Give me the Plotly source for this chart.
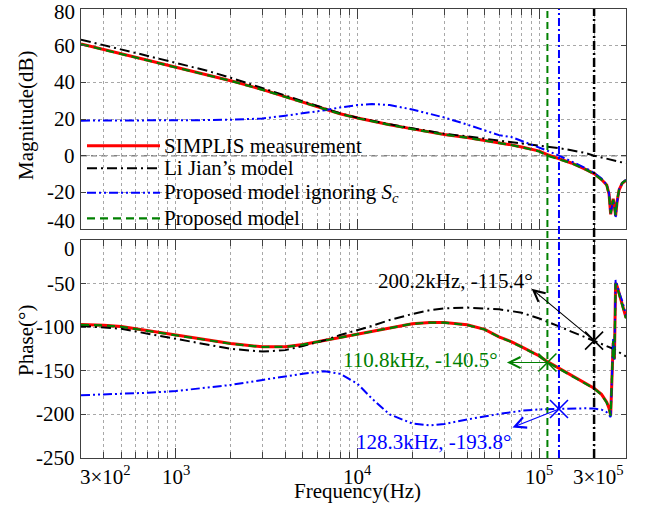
import numpy as np
import plotly.graph_objects as go

# ---------------- data ----------------
freq = [300, 400, 500, 700, 1000, 1500, 2000, 3000, 4000, 5000, 6600, 8000,
        10000, 12000, 15000, 20000, 25000, 30000, 40000, 50000, 60000, 70000,
        80000, 100000, 110800, 128300, 150000, 180000, 200200, 220000, 235000,
        242000, 247000, 251000, 255000, 259000, 263000, 268000, 275000, 286000,
        300000]

mag_simplis = [60.9, 58.0, 55.6, 52.0, 48.2, 43.9, 40.9, 36.0, 32.2, 29.3, 25.4, 22.9,
               20.5, 18.8, 16.9, 14.6, 12.8, 11.6, 9.9, 8.4, 7.1, 5.9,
               4.7, 2.5, 0.6, -1.6, -4.0, -7.5, -9.8, -13.0, -16.0,
               -21.0, -32.0, -27.0, -23.5, -27.0, -33.0, -25.0, -18.6, -15.0,
               -13.5]
mag_lijian = [63.3, 60.4, 58.0, 54.4, 50.6, 46.2, 42.5, 36.8, 32.8, 29.6, 25.6, 23.1,
              20.7, 19.0, 17.1, 14.9, 13.2, 12.0, 10.5, 9.3, 8.4, 7.6,
              6.9, 5.7, 5.1, 4.1, 3.0, 1.4, 0.0, -1.0, -1.6,
              -1.9, -2.1, -2.3, -2.4, -2.6, -2.8, -3.0, -3.3, -3.7,
              -4.2]
mag_nosc = [19.1, 19.1, 19.2, 19.2, 19.3, 19.4, 19.6, 20.3, 21.8, 23.0, 24.8, 26.3,
            27.6, 28.2, 27.6, 25.2, 22.8, 20.8, 17.0, 14.0, 11.2, 10.2,
            8.0, 4.6, 2.7, 0.0, -3.0, -6.8, -9.3, -12.5, -15.8,
            -20.5, -31.5, -27.5, -24.0, -27.5, -34.0, -25.5, -18.4, -14.8,
            -13.2]
mag_proposed = [60.8, 57.9, 55.5, 51.9, 48.1, 43.8, 40.8, 35.9, 32.1, 29.2, 25.3, 22.8,
                20.4, 18.7, 16.8, 14.5, 12.7, 11.5, 9.8, 8.3, 7.0, 5.8,
                4.6, 2.3, 0.0, -1.8, -4.1, -7.6, -9.9, -13.1, -16.2,
                -21.5, -31.5, -27.5, -24.0, -27.5, -32.5, -24.5, -18.4, -14.9,
                -13.4]

ph_simplis = [-97.0, -97.7, -99.3, -104.0, -108.5, -115.0, -118.8, -122.5, -122.4, -119.8, -115.0, -111.5,
              -107.8, -104.5, -100.5, -96.0, -94.5, -94.6, -97.3, -102.5, -111.0, -116.5,
              -122.5, -133.0, -139.5, -147.0, -155.0, -164.0, -170.0, -177.0, -186.0,
              -193.0, -201.0, -160.0, -118.0, -136.0, -49.0, -53.0, -61.0, -73.0,
              -89.0]
ph_lijian = [-98.5, -100.0, -101.8, -107.5, -113.5, -120.5, -124.8, -128.0, -126.3, -121.5, -115.0, -109.0,
             -103.5, -98.5, -91.8, -84.8, -80.5, -78.5, -77.5, -78.2, -79.5, -81.5,
             -83.5, -90.0, -93.5, -99.0, -105.0, -111.5, -115.4, -119.0, -121.5,
             -122.5, -123.3, -124.0, -124.7, -125.4, -126.2, -127.3, -128.8, -130.8,
             -133.5]
ph_nosc = [-178.0, -177.3, -176.6, -175.2, -173.2, -169.5, -166.2, -160.5, -156.3, -153.3, -150.5, -153.5,
           -165.0, -182.0, -200.0, -210.5, -212.6, -211.0, -205.8, -202.0, -199.5, -197.5,
           -195.8, -194.3, -194.0, -193.8, -193.3, -193.0, -193.3, -194.5, -197.5,
           -200.5, -203.0, -158.0, -112.0, -138.0, -46.0, -51.0, -60.0, -70.0,
           -86.0]
ph_proposed = [-97.2, -97.9, -99.5, -104.2, -108.7, -115.2, -119.0, -122.7, -122.6, -120.0, -115.2, -111.6,
               -107.9, -104.6, -100.6, -96.1, -94.6, -94.7, -97.5, -102.7, -111.2, -116.8,
               -122.8, -133.4, -140.0, -147.4, -155.4, -164.4, -170.4, -177.4, -186.5,
               -193.5, -201.5, -158.0, -116.0, -137.0, -50.0, -54.0, -62.0, -74.0,
               -90.0]

# crossover points: Proposed model, Proposed ignoring Sc, Li Jian's model
cross_freq = [110800, 128300, 200200]
cross_phase = [-140.5, -193.8, -115.4]
cross_text = ["110.8kHz, -140.5°", "128.3kHz, -193.8°", "200.2kHz, -115.4°"]

legend_names = ["SIMPLIS measurement", "Li Jian’s model",
                "Proposed model ignoring <i>S</i><sub><i>c</i></sub>", "Proposed model"]

xtick_vals = [300, 1000, 10000, 100000, 300000]
xtick_text = ["3×10<sup>2</sup>", "10<sup>3</sup>", "10<sup>4</sup>", "10<sup>5</sup>", "3×10<sup>5</sup>"]
xminor_vals = [400, 500, 600, 700, 800, 900, 2000, 3000, 4000, 5000, 6000, 7000, 8000, 9000,
               20000, 30000, 40000, 50000, 60000, 70000, 80000, 90000, 200000]
mag_ticks = [-40, -20, 0, 20, 40, 60, 80]
phase_ticks = [-250, -200, -150, -100, -50, 0]

# ---------------- geometry helpers (window pixels) ----------------
PL, PR, PT, PB = 81, 626, 9, 458          # plot area
W_PLOT, H_PLOT = PR - PL, PB - PT


def px(xpix):
    return (xpix - PL) / W_PLOT


def py(ypix):
    return (PB - ypix) / H_PLOT


# ---------------- styling ----------------
FONT = "Liberation Serif"
RED, BLACK, BLUE, GREEN = "#ff0000", "#000000", "#0000ff", "#008000"
DASH_LJ = "10px,4px,2px,4px"
DASH_NS = "9px,3px,2px,3px,2px,3px"
DASH_PR = "8px,5px"
AX = "#404040"
GRID = "#a8a8a8"

styles = [(RED, "solid", 3.0), (BLACK, DASH_LJ, 2.0), (BLUE, DASH_NS, 2.0), (GREEN, DASH_PR, 2.2)]
mags = [mag_simplis, mag_lijian, mag_nosc, mag_proposed]
phases = [ph_simplis, ph_lijian, ph_nosc, ph_proposed]

fig = go.Figure()
for (c, d, w), m, p, nm in zip(styles, mags, phases, legend_names):
    fig.add_trace(go.Scatter(x=freq, y=m, mode="lines", name=nm,
                             line=dict(color=c, dash=d, width=w), xaxis="x", yaxis="y"))
    fig.add_trace(go.Scatter(x=freq, y=p, mode="lines", name=nm,
                             line=dict(color=c, dash=d, width=w), xaxis="x2", yaxis="y2"))

cross_colors = [GREEN, BLUE, BLACK]
for f, ph, c in zip(cross_freq, cross_phase, cross_colors):
    fig.add_trace(go.Scatter(x=[f], y=[ph], mode="markers",
                             marker=dict(symbol="x-thin", size=18, line=dict(width=1.6, color=c)),
                             xaxis="x2", yaxis="y2"))

shapes = []
# 0 dB reference
shapes.append(dict(type="line", xref="x domain", yref="y", x0=0, x1=1, y0=0, y1=0,
                   line=dict(color="#808080", width=1.5, dash="6px,4px"), layer="below"))
# vertical crossover lines through both panels
vdash = ["7px,4px", "8px,3px,2px,3px", "9px,3px,2px,3px"]
vwidth = [2, 2, 2.5]
for f, c, d, w in zip(cross_freq, cross_colors, vdash, vwidth):
    shapes.append(dict(type="line", xref="x", yref="paper", x0=f, x1=f, y0=0, y1=1,
                       line=dict(color=c, width=w, dash=d)))

axis_common = dict(showline=True, linecolor=AX, linewidth=1, mirror="ticks",
                   ticks="inside", tickcolor=AX, showgrid=True, gridcolor=GRID,
                   griddash="dot", gridwidth=1, zeroline=False, automargin=False,
                   showticklabels=False)
xr = [np.log10(300), np.log10(3e5)]
xminor = dict(tickmode="array", tickvals=xminor_vals, ticks="inside", ticklen=6,
              tickcolor=AX, showgrid=True, gridcolor=GRID, griddash="dot", gridwidth=1)

fig.update_layout(
    width=649, height=506,
    margin=dict(l=PL, r=649 - PR, t=PT, b=506 - PB, autoexpand=False),
    paper_bgcolor="white", plot_bgcolor="white", showlegend=False,
    font=dict(family=FONT, size=21, color="black"),
    xaxis=dict(type="log", range=xr, domain=[0, 1], anchor="y", tickmode="array",
               tickvals=xtick_vals[1:4], ticklen=10, minor=xminor, **axis_common),
    yaxis=dict(domain=[py(229), 1], range=[-40, 80], anchor="x", tickmode="array",
               tickvals=mag_ticks[1:-1], ticklen=5, **axis_common),
    xaxis2=dict(type="log", range=xr, domain=[0, 1], anchor="y2", matches="x",
                tickmode="array", tickvals=xtick_vals[1:4], ticklen=10, minor=xminor,
                **axis_common),
    yaxis2=dict(domain=[0, py(240)], range=[-250, 0], anchor="x2", tickmode="array",
                tickvals=phase_ticks[:-1], ticklen=5, **axis_common),
)

ann = []
tf = dict(family=FONT, size=21, color="black")
# x tick labels (edge ones kept inside the frame)
for i, (v, t) in enumerate(zip(xtick_vals, xtick_text)):
    xa = "left" if i == 0 else ("right" if i == len(xtick_vals) - 1 else "center")
    xs = -3 if i == 0 else 0
    ann.append(dict(xref="x2", yref="paper", x=np.log10(v), y=py(475), yanchor="middle",
                    xanchor=xa, xshift=xs, text=t, showarrow=False, font=tf))
# y tick labels (edge ones nudged inside, as in the original)
for i, v in enumerate(mag_ticks):
    ys = -3 if i == len(mag_ticks) - 1 else (8 if i == 0 else 0)
    ann.append(dict(xref="paper", yref="y", x=px(77), y=v, yshift=ys,
                    xanchor="right", yanchor="middle", text=str(v), showarrow=False, font=tf))
for i, v in enumerate(phase_ticks):
    ys = -9 if i == len(phase_ticks) - 1 else 0
    ann.append(dict(xref="paper", yref="y2", x=px(77), y=v, yshift=ys,
                    xanchor="right", yanchor="middle", text=str(v), showarrow=False, font=tf))
# axis titles
ann.append(dict(xref="paper", yref="paper", x=px(26), y=py(116), textangle=-90,
                xanchor="center", yanchor="middle", text="Magnitude(dB)", showarrow=False, font=tf))
ann.append(dict(xref="paper", yref="paper", x=px(26), y=py(341), textangle=-90,
                xanchor="center", yanchor="middle", text="Phase(°)", showarrow=False, font=tf))
ann.append(dict(xref="paper", yref="paper", x=px(357), y=py(491),
                xanchor="center", yanchor="middle", text="Frequency(Hz)", showarrow=False, font=tf))

# custom legend (long line samples like the original)
leg_rows = [145.7, 168.3, 192.7, 218.3]
for (c, d, w), nm, ypix in zip(styles, legend_names, leg_rows):
    shapes.append(dict(type="line", xref="paper", yref="paper", x0=px(87), x1=px(160),
                       y0=py(ypix), y1=py(ypix), line=dict(color=c, dash=d, width=w)))
    ann.append(dict(xref="paper", yref="paper", x=px(162), y=py(ypix),
                    xanchor="left", yanchor="middle", text=nm, showarrow=False, font=tf))

# crossover callouts
text_pos = [(420, 359.5), (433.3, 441.7), (455, 281)]
arrow_off = [(-42, 0), (-48, 19), (-64, -53)]
for f, ph, t, c, (tx, ty), (ax, ay) in zip(cross_freq, cross_phase, cross_text,
                                           cross_colors, text_pos, arrow_off):
    ann.append(dict(xref="paper", yref="paper", x=px(tx), y=py(ty),
                    xanchor="center", yanchor="middle", text=t, showarrow=False,
                    font=dict(family=FONT, size=21, color=c)))
    ann.append(dict(xref="x2", yref="y2", x=np.log10(f), y=ph, text="", showarrow=True,
                    arrowside="start", startarrowhead=5, startarrowsize=2.0,
                    arrowwidth=1.1, arrowcolor=c, ax=ax, ay=ay, axref="pixel", ayref="pixel",
                    standoff=0, startstandoff=0))

fig.update_layout(annotations=ann, shapes=shapes)
# the page body has a default 8px margin; remove it so the figure fills the window
fig.write_html("out.html", config={"displayModeBar": False},
               post_script="document.body.style.margin='0px';")
